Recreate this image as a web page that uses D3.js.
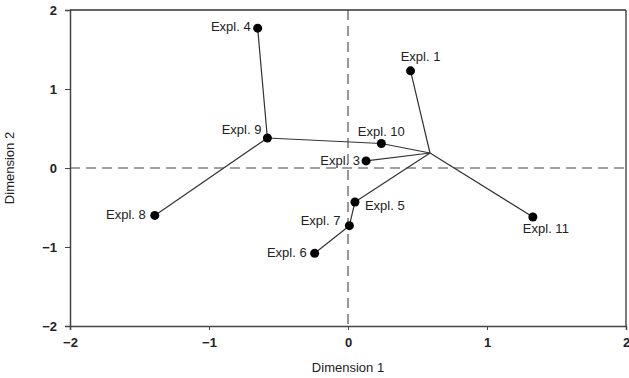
<!DOCTYPE html>
<html>
<head>
<meta charset="utf-8">
<script src="https://cdn.jsdelivr.net/npm/d3@7"></script>
<style>
  body { margin: 0; background: #fff; }
  text { font-family: "Liberation Sans", Arial, sans-serif; }
</style>
</head>
<body>
<div id="chart"></div>
<script>
// points (Dimension 1, Dimension 2)
var names = ["Expl. 1", "Expl. 3", "Expl. 4", "Expl. 5", "Expl. 6", "Expl. 7", "Expl. 8", "Expl. 9", "Expl. 10", "Expl. 11"];
var dim1 = [0.45, 0.13, -0.65, 0.05, -0.24, 0.01, -1.39, -0.58, 0.24, 1.33];
var dim2 = [1.23, 0.09, 1.77, -0.43, -1.08, -0.73, -0.60, 0.38, 0.31, -0.62];

// unlabelled branch point
var hub = { x: 0.59, y: 0.19 };

// tree links
var links = [
    ["Expl. 4", "Expl. 9"], ["Expl. 8", "Expl. 9"], ["Expl. 9", "Expl. 10"],
    ["Expl. 10", "hub"], ["Expl. 3", "hub"], ["Expl. 1", "hub"],
    ["Expl. 11", "hub"], ["Expl. 5", "hub"], ["Expl. 5", "Expl. 7"], ["Expl. 7", "Expl. 6"]
];

var ticks = [-2, -1, 0, 1, 2];

// label placement: anchor, dx, dy
var labelPlace = {
    "Expl. 1": ["middle", 10, -10],
    "Expl. 3": ["end", -6, 4],
    "Expl. 4": ["end", -7, 3],
    "Expl. 5": ["start", 10, 8],
    "Expl. 6": ["end", -8, 4],
    "Expl. 7": ["end", -9, -1],
    "Expl. 8": ["end", -9, 4],
    "Expl. 9": ["end", -6, -4],
    "Expl. 10": ["middle", 0, -8],
    "Expl. 11": ["middle", 13, 16]
};

var margin = { top: 10, right: 3, bottom: 52, left: 70 },
    width = 629 - margin.left - margin.right,
    height = 378 - margin.top - margin.bottom;

var svg = d3.select("#chart")
    .append("svg")
    .attr("width", 629)
    .attr("height", 378)
    .append("g")
    .attr("transform", "translate(" + margin.left + "," + margin.top + ")");

var x = d3.scaleLinear().domain([-2, 2]).range([0, width]);
var y = d3.scaleLinear().domain([-2, 2]).range([height, 0]);

// axes
var xAxis = svg.append("g")
    .attr("transform", "translate(0," + height + ")")
    .call(d3.axisBottom(x).tickValues(ticks).tickFormat(d3.format("d")).tickSize(4).tickPadding(8));
var yAxis = svg.append("g")
    .call(d3.axisLeft(y).tickValues(ticks).tickFormat(d3.format("d")).tickSize(5).tickPadding(8));
[xAxis, yAxis].forEach(function (a) {
    a.select(".domain").attr("stroke", "#444").attr("stroke-width", 1.5);
    a.selectAll(".tick line").attr("stroke", "#444");
    a.selectAll("text")
        .attr("font-size", "13px")
        .attr("font-weight", "bold")
        .attr("fill", "#222");
});

// box top / right
svg.append("line").attr("x1", 0).attr("x2", width).attr("y1", 0).attr("y2", 0)
    .attr("stroke", "#333").attr("stroke-width", 1.3);
svg.append("line").attr("x1", width).attr("x2", width).attr("y1", 0).attr("y2", height)
    .attr("stroke", "#333").attr("stroke-width", 1.3);

// zero reference lines
svg.append("line").attr("x1", 0).attr("x2", width).attr("y1", y(0)).attr("y2", y(0))
    .attr("stroke", "#444").attr("stroke-width", 1.1).attr("stroke-dasharray", "10,6");
svg.append("line").attr("x1", x(0)).attr("x2", x(0)).attr("y1", 0).attr("y2", height)
    .attr("stroke", "#444").attr("stroke-width", 1.1).attr("stroke-dasharray", "10,6");

// lookup
var pts = {};
names.forEach(function (n, i) { pts[n] = { x: dim1[i], y: dim2[i] }; });
pts["hub"] = hub;

svg.append("g")
    .selectAll("line")
    .data(links)
    .enter().append("line")
    .attr("x1", function (d) { return x(pts[d[0]].x); })
    .attr("y1", function (d) { return y(pts[d[0]].y); })
    .attr("x2", function (d) { return x(pts[d[1]].x); })
    .attr("y2", function (d) { return y(pts[d[1]].y); })
    .attr("stroke", "#333")
    .attr("stroke-width", 1.2);

svg.append("g")
    .selectAll("circle")
    .data(names)
    .enter().append("circle")
    .attr("cx", function (d) { return x(pts[d].x); })
    .attr("cy", function (d) { return y(pts[d].y); })
    .attr("r", 4.5)
    .attr("fill", "#000");

svg.append("g")
    .selectAll("text")
    .data(names)
    .enter().append("text")
    .text(function (d) { return d; })
    .attr("x", function (d) { return x(pts[d].x) + labelPlace[d][1]; })
    .attr("y", function (d) { return y(pts[d].y) + labelPlace[d][2]; })
    .attr("text-anchor", function (d) { return labelPlace[d][0]; })
    .attr("font-size", "13px")
    .attr("fill", "#222");

// axis titles
svg.append("text")
    .text("Dimension 1")
    .attr("x", width / 2)
    .attr("y", height + 46)
    .attr("text-anchor", "middle")
    .attr("font-size", "13px")
    .attr("fill", "#222");
svg.append("text")
    .text("Dimension 2")
    .attr("transform", "translate(" + (-56) + "," + (height / 2) + ")rotate(-90)")
    .attr("text-anchor", "middle")
    .attr("font-size", "13px")
    .attr("fill", "#222");
</script>
</body>
</html>
